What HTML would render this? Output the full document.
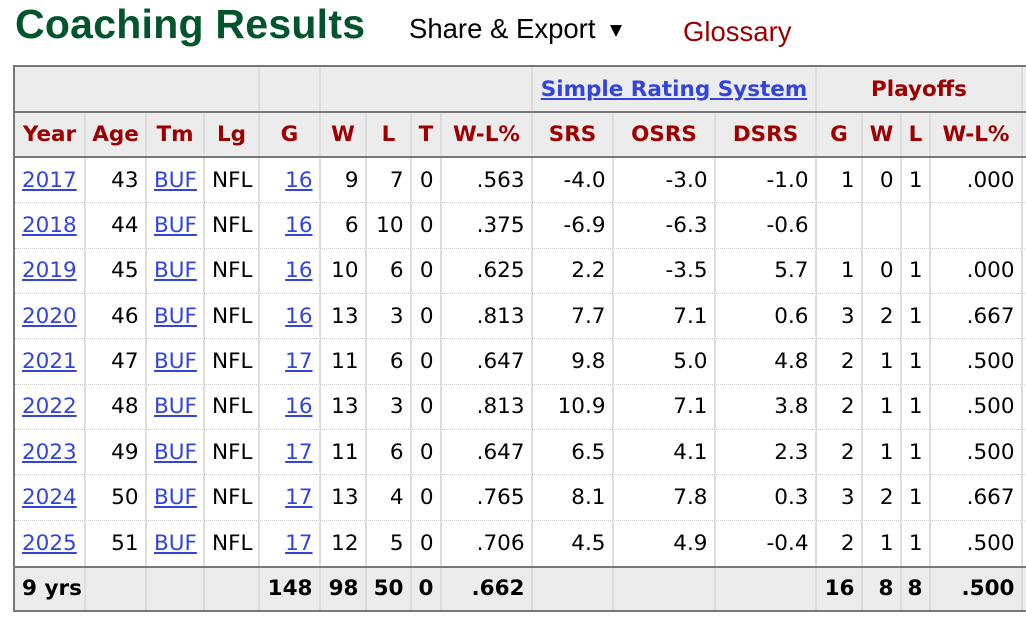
<!DOCTYPE html>
<html><head><meta charset="utf-8">
<style>
html,body{margin:0;padding:0;background:#fff;}
body{width:1026px;height:620px;overflow:hidden;position:relative;}
.title{position:absolute;left:15px;top:4px;font:bold 41px/41px "Liberation Sans",Arial,sans-serif;color:#00552d;letter-spacing:0.25px;white-space:nowrap;}
.share{position:absolute;left:409px;top:15px;font:27.5px/27.5px "Liberation Sans",Arial,sans-serif;color:#000;white-space:nowrap;}
.tri{position:absolute;left:610px;top:25px;width:0;height:0;border-left:6px solid transparent;border-right:6px solid transparent;border-top:12px solid #000;}
.gloss{position:absolute;left:683px;top:18px;font:27.5px/27.5px "Liberation Sans",Arial,sans-serif;color:#990000;white-space:nowrap;}
.tbl{position:absolute;left:13px;top:65px;width:1100px;border-left:2px solid #777;border-top:2px solid #777;font-family:"DejaVu Sans",Verdana,sans-serif;font-size:21.5px;}
.row{display:flex;box-sizing:border-box;}
.c{box-sizing:border-box;border-right:2px solid #ddd;display:flex;align-items:center;padding:0 7px;white-space:nowrap;overflow:visible;flex:none;}
.r{justify-content:flex-end;padding-right:6.5px;}
.l{justify-content:flex-start;}
.ctr{justify-content:center;padding:0;}
.over{height:46px;background:#ececec;border-bottom:2px solid #777;}
.head{height:45px;background:#ececec;border-bottom:2px solid #777;font-weight:bold;color:#9c0000;}
.data{height:45.33px;border-bottom:1px dotted #c8c8c8;}
.data.last{border-bottom:none;}
.tot{height:46px;background:#ececec;border-top:2px solid #777;border-bottom:2px solid #777;font-weight:bold;}
a{color:#3344dd;text-decoration:underline;}
.w1{width:71px}.w2{width:61px}.w3{width:58px}.w4{width:55px}.w5{width:61px}.w6{width:46px}.w7{width:45px}.w8{width:30px}.w9{width:91px}
.w10{width:81px}.w11{width:102px}.w12{width:101px}.w13{width:46px}.w14{width:39px}.w15{width:29px}.w16{width:92px}
.wx{width:80px;border-right:none;}
.srs{color:#3344dd;font-weight:bold;text-decoration:underline;}
.po{color:#9c0000;font-weight:bold;}
</style></head><body>
<div class="title">Coaching Results</div>
<div class="share">Share &amp; Export</div>
<div class="tri"></div>
<div class="gloss">Glossary</div>

<div class="tbl">
  <div class="row over">
    <div class="c" style="width:245px"></div>
    <div class="c" style="width:61px"></div>
    <div class="c" style="width:212px"></div>
    <div class="c ctr" style="width:284px"><span class="srs">Simple Rating System</span></div>
    <div class="c ctr" style="width:206px"><span class="po">Playoffs</span></div>
    <div class="c wx"></div>
  </div>
  <div class="row head">
    <div class="c ctr w1">Year</div><div class="c ctr w2">Age</div><div class="c ctr w3">Tm</div><div class="c ctr w4">Lg</div><div class="c ctr w5">G</div><div class="c ctr w6">W</div><div class="c ctr w7">L</div><div class="c ctr w8">T</div><div class="c ctr w9">W-L%</div><div class="c ctr w10">SRS</div><div class="c ctr w11">OSRS</div><div class="c ctr w12">DSRS</div><div class="c ctr w13">G</div><div class="c ctr w14">W</div><div class="c ctr w15">L</div><div class="c ctr w16">W-L%</div><div class="c wx"></div>
  </div>

  <div class="row data">
    <div class="c l w1"><a>2017</a></div><div class="c r w2">43</div><div class="c l w3"><a>BUF</a></div><div class="c l w4">NFL</div><div class="c r w5"><a>16</a></div><div class="c r w6">9</div><div class="c r w7">7</div><div class="c r w8">0</div><div class="c r w9">.563</div><div class="c r w10">-4.0</div><div class="c r w11">-3.0</div><div class="c r w12">-1.0</div><div class="c r w13">1</div><div class="c r w14">0</div><div class="c r w15">1</div><div class="c r w16">.000</div><div class="c wx"></div>
  </div>
  <div class="row data">
    <div class="c l w1"><a>2018</a></div><div class="c r w2">44</div><div class="c l w3"><a>BUF</a></div><div class="c l w4">NFL</div><div class="c r w5"><a>16</a></div><div class="c r w6">6</div><div class="c r w7">10</div><div class="c r w8">0</div><div class="c r w9">.375</div><div class="c r w10">-6.9</div><div class="c r w11">-6.3</div><div class="c r w12">-0.6</div><div class="c r w13"></div><div class="c r w14"></div><div class="c r w15"></div><div class="c r w16"></div><div class="c wx"></div>
  </div>
  <div class="row data">
    <div class="c l w1"><a>2019</a></div><div class="c r w2">45</div><div class="c l w3"><a>BUF</a></div><div class="c l w4">NFL</div><div class="c r w5"><a>16</a></div><div class="c r w6">10</div><div class="c r w7">6</div><div class="c r w8">0</div><div class="c r w9">.625</div><div class="c r w10">2.2</div><div class="c r w11">-3.5</div><div class="c r w12">5.7</div><div class="c r w13">1</div><div class="c r w14">0</div><div class="c r w15">1</div><div class="c r w16">.000</div><div class="c wx"></div>
  </div>
  <div class="row data">
    <div class="c l w1"><a>2020</a></div><div class="c r w2">46</div><div class="c l w3"><a>BUF</a></div><div class="c l w4">NFL</div><div class="c r w5"><a>16</a></div><div class="c r w6">13</div><div class="c r w7">3</div><div class="c r w8">0</div><div class="c r w9">.813</div><div class="c r w10">7.7</div><div class="c r w11">7.1</div><div class="c r w12">0.6</div><div class="c r w13">3</div><div class="c r w14">2</div><div class="c r w15">1</div><div class="c r w16">.667</div><div class="c wx"></div>
  </div>
  <div class="row data">
    <div class="c l w1"><a>2021</a></div><div class="c r w2">47</div><div class="c l w3"><a>BUF</a></div><div class="c l w4">NFL</div><div class="c r w5"><a>17</a></div><div class="c r w6">11</div><div class="c r w7">6</div><div class="c r w8">0</div><div class="c r w9">.647</div><div class="c r w10">9.8</div><div class="c r w11">5.0</div><div class="c r w12">4.8</div><div class="c r w13">2</div><div class="c r w14">1</div><div class="c r w15">1</div><div class="c r w16">.500</div><div class="c wx"></div>
  </div>
  <div class="row data">
    <div class="c l w1"><a>2022</a></div><div class="c r w2">48</div><div class="c l w3"><a>BUF</a></div><div class="c l w4">NFL</div><div class="c r w5"><a>16</a></div><div class="c r w6">13</div><div class="c r w7">3</div><div class="c r w8">0</div><div class="c r w9">.813</div><div class="c r w10">10.9</div><div class="c r w11">7.1</div><div class="c r w12">3.8</div><div class="c r w13">2</div><div class="c r w14">1</div><div class="c r w15">1</div><div class="c r w16">.500</div><div class="c wx"></div>
  </div>
  <div class="row data">
    <div class="c l w1"><a>2023</a></div><div class="c r w2">49</div><div class="c l w3"><a>BUF</a></div><div class="c l w4">NFL</div><div class="c r w5"><a>17</a></div><div class="c r w6">11</div><div class="c r w7">6</div><div class="c r w8">0</div><div class="c r w9">.647</div><div class="c r w10">6.5</div><div class="c r w11">4.1</div><div class="c r w12">2.3</div><div class="c r w13">2</div><div class="c r w14">1</div><div class="c r w15">1</div><div class="c r w16">.500</div><div class="c wx"></div>
  </div>
  <div class="row data">
    <div class="c l w1"><a>2024</a></div><div class="c r w2">50</div><div class="c l w3"><a>BUF</a></div><div class="c l w4">NFL</div><div class="c r w5"><a>17</a></div><div class="c r w6">13</div><div class="c r w7">4</div><div class="c r w8">0</div><div class="c r w9">.765</div><div class="c r w10">8.1</div><div class="c r w11">7.8</div><div class="c r w12">0.3</div><div class="c r w13">3</div><div class="c r w14">2</div><div class="c r w15">1</div><div class="c r w16">.667</div><div class="c wx"></div>
  </div>
  <div class="row data last">
    <div class="c l w1"><a>2025</a></div><div class="c r w2">51</div><div class="c l w3"><a>BUF</a></div><div class="c l w4">NFL</div><div class="c r w5"><a>17</a></div><div class="c r w6">12</div><div class="c r w7">5</div><div class="c r w8">0</div><div class="c r w9">.706</div><div class="c r w10">4.5</div><div class="c r w11">4.9</div><div class="c r w12">-0.4</div><div class="c r w13">2</div><div class="c r w14">1</div><div class="c r w15">1</div><div class="c r w16">.500</div><div class="c wx"></div>
  </div>

  <div class="row tot">
    <div class="c l w1">9 yrs</div><div class="c r w2"></div><div class="c r w3"></div><div class="c r w4"></div><div class="c r w5">148</div><div class="c r w6">98</div><div class="c r w7">50</div><div class="c r w8">0</div><div class="c r w9">.662</div><div class="c r w10"></div><div class="c r w11"></div><div class="c r w12"></div><div class="c r w13">16</div><div class="c r w14">8</div><div class="c r w15">8</div><div class="c r w16">.500</div><div class="c wx"></div>
  </div>
</div>
</body></html>
